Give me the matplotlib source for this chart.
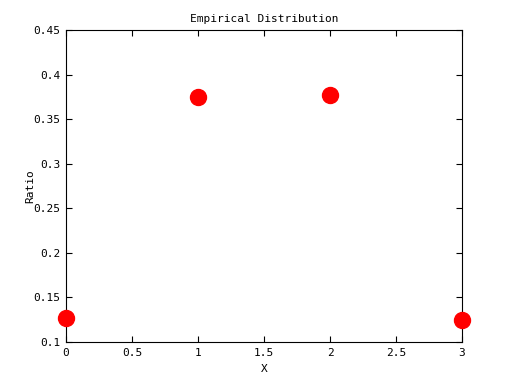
import matplotlib
matplotlib.use("Agg")
import matplotlib.pyplot as plt

# values
x_vals = [0, 1, 2, 3]
ratio = [0.1266, 0.3745, 0.3767, 0.1243]
x_ticks = [0, 0.5, 1, 1.5, 2, 2.5, 3]
x_labels = ["0", "0.5", "1", "1.5", "2", "2.5", "3"]
y_ticks = [0.1, 0.15, 0.2, 0.25, 0.3, 0.35, 0.4, 0.45]
y_labels = ["0.1", "0.15", "0.2", "0.25", "0.3", "0.35", "0.4", "0.45"]

plt.rcParams["font.family"] = ["DejaVu Sans Mono"]
plt.rcParams["font.size"] = 8

fig = plt.figure(figsize=(5.12, 3.84), dpi=100)
ax = fig.add_axes([66 / 512, 42 / 384, 396 / 512, 312 / 384])

ax.plot(x_vals, ratio, "o", color="red", markersize=11.5, clip_on=False, zorder=3)

ax.set_xlim(0, 3)
ax.set_ylim(0.1, 0.45)
ax.set_xticks(x_ticks)
ax.set_xticklabels(x_labels)
ax.set_yticks(y_ticks)
ax.set_yticklabels(y_labels)
ax.tick_params(direction="in", top=True, right=True, length=4, width=0.8, pad=4)
for s in ax.spines.values():
    s.set_linewidth(0.8)

ax.set_title("Empirical Distribution", fontsize=8, pad=6)
ax.set_xlabel("X", labelpad=5)
ax.set_ylabel("Ratio", labelpad=-1)

fig.savefig("out.png", dpi=100)
